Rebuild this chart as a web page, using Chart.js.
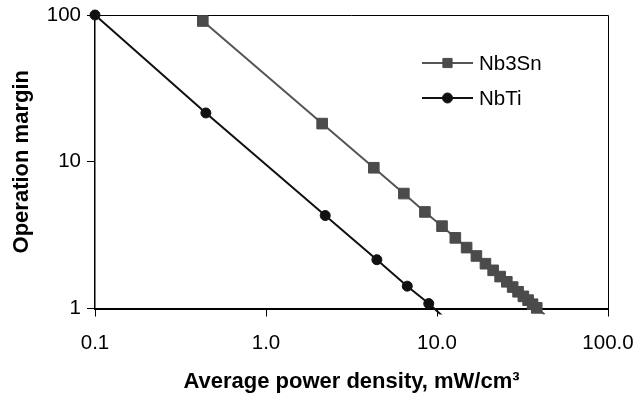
<!DOCTYPE html>
<html><head><meta charset="utf-8">
<script src="https://cdn.jsdelivr.net/npm/chart.js@4/dist/chart.umd.min.js"></script>
<style>html,body{margin:0;padding:0;background:#fff}#wrap{width:637px;height:395px}</style>
</head><body><div id="wrap"><canvas id="c" width="637" height="395"></canvas></div>
<script>
const seriesNames = ['Nb3Sn', 'NbTi'];
const nb3snPower  = [0.427, 2.13, 4.27, 6.4, 8.5, 10.7, 12.8, 14.9, 17.0, 19.2, 21.3, 23.4, 25.6, 27.7, 29.8, 32.0, 34.1, 36.2, 38.3, 42.6];
const nb3snMargin = [91, 18.2, 9.1, 6.07, 4.55, 3.64, 3.03, 2.6, 2.28, 2.02, 1.82, 1.65, 1.52, 1.4, 1.3, 1.21, 1.14, 1.07, 1.01, 0.91];
const nbtiPower   = [0.1, 0.445, 2.22, 4.45, 6.7, 8.95, 11.1];
const nbtiMargin  = [100, 21.5, 4.3, 2.15, 1.42, 1.08, 0.86];
const xTicks = [0.1, 1, 10, 100];
const xTickLabels = ['0.1', '1.0', '10.0', '100.0'];
const yTicks = [1, 10, 100];
const yTickLabels = ['1', '10', '100'];
const xTitle = 'Average power density, mW/cm\u00B3';
const yTitle = 'Operation margin';

const FONT = "'Liberation Sans', Arial, sans-serif";
const toPts = (xs, ys) => xs.map((x, i) => ({ x: x, y: ys[i] }));

const datasets = [
  {
    label: seriesNames[0],
    data: toPts(nb3snPower, nb3snMargin),
    borderColor: '#555555', borderWidth: 2,
    pointStyle: 'rect', backgroundColor: '#4b4b4b', pointBackgroundColor: '#4b4b4b',
    pointBorderColor: '#4b4b4b', pointBorderWidth: 1,
    pointRadius: ctx => (ctx.raw && ctx.raw.y < 1 ? 0 : 7.5),
    clip: { left: 12, top: 12, right: 12, bottom: 6 }
  },
  {
    label: seriesNames[1],
    data: toPts(nbtiPower, nbtiMargin),
    borderColor: '#111111', borderWidth: 2,
    pointStyle: 'circle', backgroundColor: '#111111', pointBackgroundColor: '#111111',
    pointBorderColor: '#111111', pointBorderWidth: 1,
    pointRadius: ctx => (ctx.raw && ctx.raw.y < 1 ? 0 : 5),
    clip: { left: 12, top: 12, right: 12, bottom: 6 }
  }
];

const framePlugin = {
  id: 'frame',
  beforeDatasetsDraw(chart) {
    const { ctx, chartArea: a } = chart;
    ctx.save();
    ctx.strokeStyle = '#000';
    ctx.lineWidth = 1;
    ctx.beginPath();
    ctx.moveTo(a.left, a.top + 0.5);
    ctx.lineTo(a.right + 0.5, a.top + 0.5);
    ctx.lineTo(a.right + 0.5, a.bottom);
    ctx.stroke();
    ctx.restore();
  }
};

const legendPlugin = {
  id: 'xlLegend',
  afterDraw(chart) {
    const { ctx, chartArea: a } = chart;
    const x0 = a.right - 186, x1 = a.right - 135, xm = (x0 + x1) / 2, xt = a.right - 129;
    const rows = [a.top + 48, a.top + 83];
    ctx.save();
    chart.data.datasets.forEach((ds, i) => {
      const y = rows[i];
      ctx.strokeStyle = ds.borderColor;
      ctx.lineWidth = ds.borderWidth;
      ctx.beginPath(); ctx.moveTo(x0, y); ctx.lineTo(x1, y); ctx.stroke();
      ctx.fillStyle = ds.pointBackgroundColor;
      ctx.strokeStyle = ds.pointBorderColor;
      ctx.lineWidth = 1;
      Chart.helpers.drawPoint(ctx, { pointStyle: ds.pointStyle, radius: ds.pointStyle === 'rect' ? 6.5 : 5, rotation: 0, borderWidth: 1 }, xm, y);
      ctx.fillStyle = '#000';
      ctx.font = '20.5px ' + FONT;
      ctx.textBaseline = 'middle';
      ctx.textAlign = 'left';
      ctx.fillText(ds.label, xt, y + 1);
    });
    ctx.restore();
  }
};

new Chart(document.getElementById('c'), {
  type: 'line',
  data: { datasets },
  options: {
    responsive: false, animation: false, devicePixelRatio: 1,
    layout: { padding: { left: 0, right: 29, top: 15, bottom: 0 } },
    plugins: { legend: { display: false }, tooltip: { enabled: false } },
    elements: { line: { tension: 0 } },
    scales: {
      x: {
        type: 'logarithmic', position: 'bottom', min: 0.1, max: 100,
        afterBuildTicks: s => { s.ticks = xTicks.map(v => ({ value: v, major: true })); },
        afterFit: s => { s.height = 86.5; s.paddingLeft = 0; s.paddingRight = 0; },
        ticks: {
          autoSkip: false, maxRotation: 0, color: '#000', padding: 15,
          font: { family: FONT, size: 20.5 },
          callback: v => xTickLabels[xTicks.indexOf(v)]
        },
        grid: { drawOnChartArea: false, drawTicks: true, tickLength: 8, color: '#000', lineWidth: 1 },
        border: { display: true, color: '#000', width: 2 },
        title: { display: true, text: xTitle, color: '#000', font: { family: FONT, size: 22, weight: 'bold' }, padding: { top: 0, bottom: 0 } }
      },
      y: {
        type: 'logarithmic', position: 'left', min: 1, max: 100,
        afterBuildTicks: s => { s.ticks = yTicks.map(v => ({ value: v, major: true })); },
        afterFit: s => { s.width = 95; s.paddingTop = 0; s.paddingBottom = 0; },
        ticks: {
          autoSkip: false, color: '#000', padding: 6,
          font: { family: FONT, size: 20.5 },
          callback: v => yTickLabels[yTicks.indexOf(v)]
        },
        grid: { drawOnChartArea: false, drawTicks: true, tickLength: 8, color: '#000', lineWidth: 1 },
        border: { display: true, color: '#000', width: 1.5 },
        title: { display: true, text: yTitle, color: '#000', font: { family: FONT, size: 22, weight: 'bold' }, padding: { top: 9, bottom: 0 } }
      }
    }
  },
  plugins: [framePlugin, legendPlugin]
});
</script></body></html>
